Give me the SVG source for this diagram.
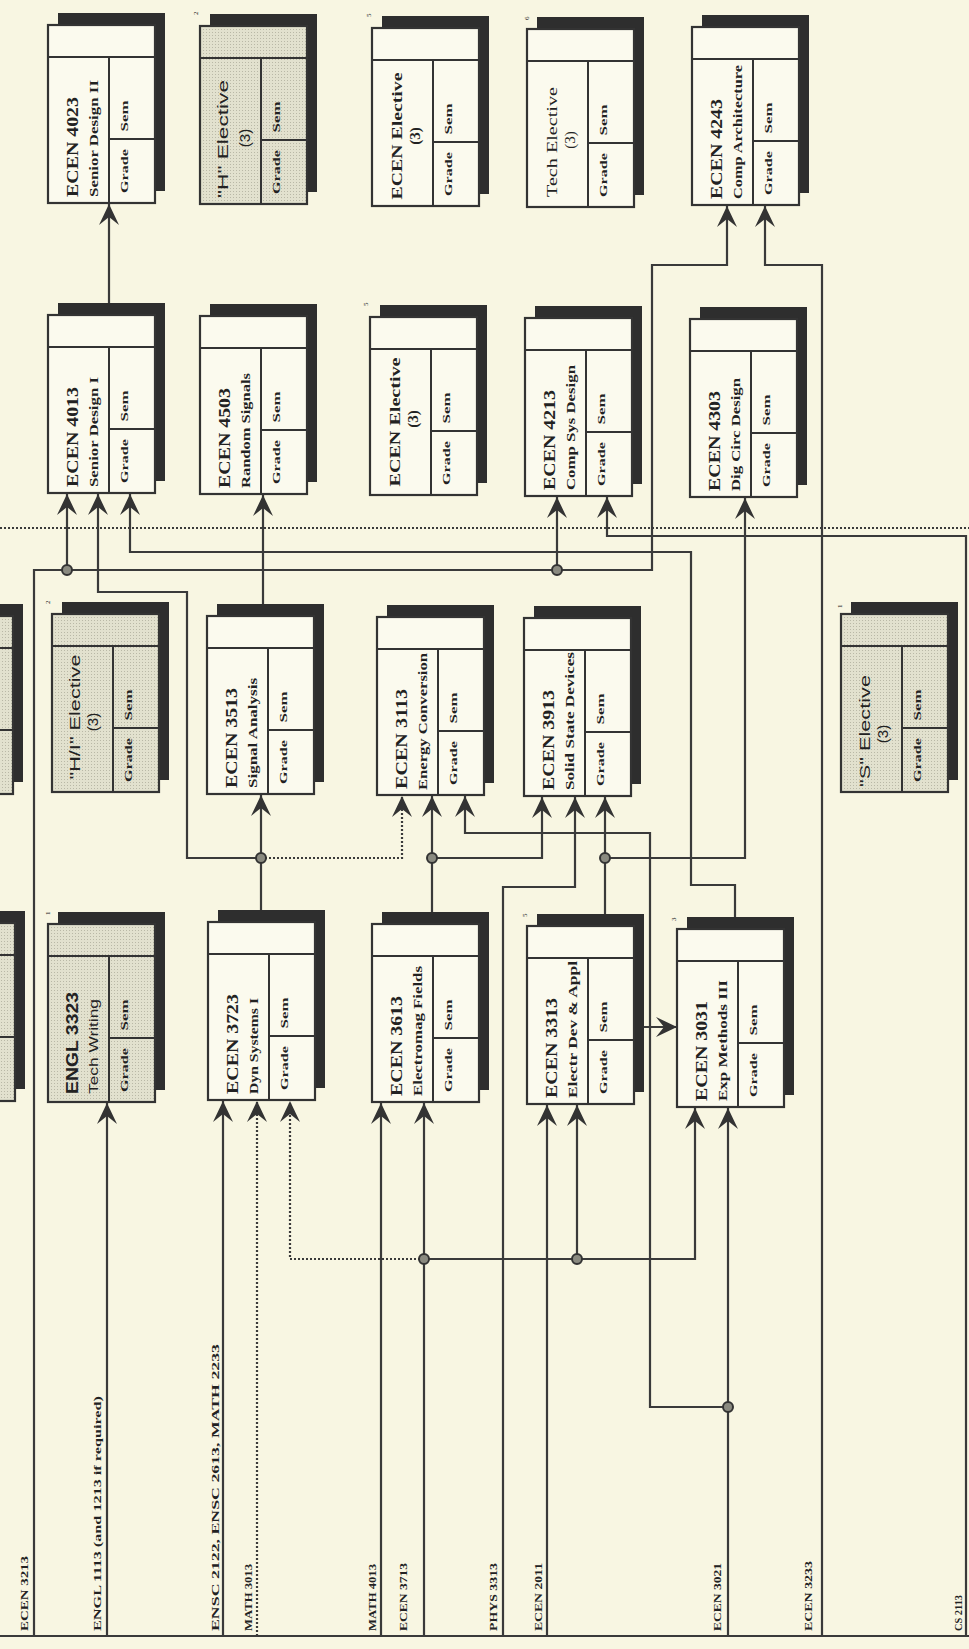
<svg xmlns="http://www.w3.org/2000/svg" xmlns:xlink="http://www.w3.org/1999/xlink" width="969" height="1649" viewBox="0 0 969 1649">
<style>
.bg{fill:#f8f6e2}
.sh{fill:#2e2e2e}
.bx{fill:#fbfaee;stroke:#333;stroke-width:2.2}
.gx{fill:url(#dots);stroke:#333;stroke-width:2.2}
.dv{fill:none;stroke:#333;stroke-width:2}
.ln{fill:none;stroke:#3a3a3a;stroke-width:2.2}
.dt{fill:none;stroke:#3a3a3a;stroke-width:2.2;stroke-dasharray:2 2}
.jn{fill:#8a8a80;stroke:#333;stroke-width:2}
text{fill:#222;font-family:"Liberation Serif",serif;font-weight:bold}
.t{font-size:16px}
.s{font-size:12px}
.c{font-size:11px}
.h{font-family:"Liberation Sans",Arial,sans-serif;font-size:15px;font-weight:normal}
.e{font-size:15px}
.sup{font-size:7px;font-weight:normal}
.lb{font-size:11px}
</style>
<defs>
<pattern id="dots" width="3" height="3" patternUnits="userSpaceOnUse">
<rect width="3" height="3" fill="#e2e1ce"/>
<rect width="1" height="1" fill="#b9b8a6"/>
</pattern>
<marker id="ah" viewBox="-22 -12 24 24" markerWidth="24" markerHeight="24" refX="0" refY="0" orient="auto" markerUnits="userSpaceOnUse">
<path d="M0,0 L-21,-10 L-13,0 L-21,10 Z" fill="#333"/>
</marker>
<g id="frame">
<rect class="sh" x="10" y="-12" width="107" height="178"/>
<rect class="bx" x="0" y="0" width="107" height="178"/>
<path class="dv" d="M0,32H107M61,32V178M61,114H107"/>
<text class="c" transform="translate(80,146) rotate(-90)" text-anchor="middle" textLength="44" lengthAdjust="spacingAndGlyphs">Grade</text>
<text class="c" transform="translate(80,91) rotate(-90)" text-anchor="middle" textLength="31" lengthAdjust="spacingAndGlyphs">Sem</text>
</g>
<g id="gframe">
<rect class="sh" x="10" y="-12" width="107" height="178"/>
<rect class="gx" x="0" y="0" width="107" height="178"/>
<path class="dv" d="M0,32H107M61,32V178M61,114H107"/>
<text class="c" transform="translate(80,146) rotate(-90)" text-anchor="middle" textLength="44" lengthAdjust="spacingAndGlyphs">Grade</text>
<text class="c" transform="translate(80,91) rotate(-90)" text-anchor="middle" textLength="31" lengthAdjust="spacingAndGlyphs">Sem</text>
</g>
</defs>
<rect class="bg" x="0" y="0" width="969" height="1649"/>

<g id="connectors">
<path class="dt" d="M0,528H969"/>
<path class="ln" d="M0,1636H969"/>
<path class="ln" marker-end="url(#ah)" d="M109,303V204"/>
<path class="ln" marker-end="url(#ah)" d="M34,1636V570H652V265H727V206"/>
<path class="ln" marker-end="url(#ah)" d="M67,570V494"/>
<path class="ln" marker-end="url(#ah)" d="M557,570V497"/>
<path class="ln" marker-end="url(#ah)" d="M822,1636V265H765V206"/>
<path class="ln" marker-end="url(#ah)" d="M966,1636V536H607V497"/>
<path class="ln" marker-end="url(#ah)" d="M735,917V885H691V552H130V494"/>
<path class="ln" marker-end="url(#ah)" d="M261,910V795"/>
<path class="ln" marker-end="url(#ah)" d="M261,858H187V592H98V494"/>
<path class="dt" marker-end="url(#ah)" d="M261,858H402V796"/>
<path class="ln" marker-end="url(#ah)" d="M263,604V495"/>
<path class="ln" marker-end="url(#ah)" d="M432,912V796"/>
<path class="ln" marker-end="url(#ah)" d="M432,858H542V797"/>
<path class="ln" marker-end="url(#ah)" d="M605,914V797"/>
<path class="ln" marker-end="url(#ah)" d="M605,858H745V498"/>
<path class="ln" marker-end="url(#ah)" d="M728,1636V1108"/>
<path class="ln" marker-end="url(#ah)" d="M728,1407H650V833H465V796"/>
<path class="ln" marker-end="url(#ah)" d="M503,1636V887H575V797"/>
<path class="ln" marker-end="url(#ah)" d="M547,1636V1105"/>
<path class="ln" marker-end="url(#ah)" d="M424,1636V1103"/>
<path class="ln" marker-end="url(#ah)" d="M424,1259H695V1108"/>
<path class="ln" marker-end="url(#ah)" d="M577,1259V1105"/>
<path class="dt" marker-end="url(#ah)" d="M424,1259H290V1101"/>
<path class="ln" marker-end="url(#ah)" d="M381,1636V1103"/>
<path class="dt" marker-end="url(#ah)" d="M257,1636V1101"/>
<path class="ln" marker-end="url(#ah)" d="M223,1636V1101"/>
<path class="ln" marker-end="url(#ah)" d="M107,1636V1103"/>
<path class="ln" marker-end="url(#ah)" d="M643,1027H677"/>
<circle class="jn" cx="67" cy="570" r="5"/>
<circle class="jn" cx="557" cy="570" r="5"/>
<circle class="jn" cx="261" cy="858" r="5"/>
<circle class="jn" cx="432" cy="858" r="5"/>
<circle class="jn" cx="605" cy="858" r="5"/>
<circle class="jn" cx="424" cy="1259" r="5"/>
<circle class="jn" cx="577" cy="1259" r="5"/>
<circle class="jn" cx="728" cy="1407" r="5"/>
</g>

<g id="n-ecen4023" transform="translate(48,25)"><use href="#frame"/>
<text class="t" transform="translate(30,172) rotate(-90)" textLength="100" lengthAdjust="spacingAndGlyphs">ECEN 4023</text>
<text class="s" transform="translate(50,172) rotate(-90)" textLength="117" lengthAdjust="spacingAndGlyphs">Senior Design II</text></g>
<g id="n-h-elective" transform="translate(200,26)"><use href="#gframe"/>
<text class="sup" transform="translate(-2,-11) rotate(-90)">2</text>
<text class="h" transform="translate(28,113) rotate(-90)" text-anchor="middle" textLength="118" lengthAdjust="spacingAndGlyphs">"H" Elective</text>
<text class="h" transform="translate(50,112) rotate(-90)" text-anchor="middle">(3)</text></g>
<g id="n-ecen-elective-1" transform="translate(372,28)"><use href="#frame"/>
<text class="sup" transform="translate(-1,-11) rotate(-90)">5</text>
<text class="e" transform="translate(30,108) rotate(-90)" text-anchor="middle" textLength="127" lengthAdjust="spacingAndGlyphs">ECEN Elective</text>
<text class="e" transform="translate(48,108) rotate(-90)" text-anchor="middle">(3)</text></g>
<g id="n-tech-elective" transform="translate(527,29)"><use href="#frame"/>
<text class="sup" transform="translate(2,-9) rotate(-90)">6</text>
<text class="e" style="font-weight:normal" transform="translate(30,113) rotate(-90)" text-anchor="middle" textLength="110" lengthAdjust="spacingAndGlyphs">Tech Elective</text>
<text class="e" style="font-weight:normal" transform="translate(48,111) rotate(-90)" text-anchor="middle">(3)</text></g>
<g id="n-ecen4243" transform="translate(692,27)"><use href="#frame"/>
<text class="t" transform="translate(30,172) rotate(-90)" textLength="100" lengthAdjust="spacingAndGlyphs">ECEN 4243</text>
<text class="s" transform="translate(50,172) rotate(-90)" textLength="134" lengthAdjust="spacingAndGlyphs">Comp Architecture</text></g>

<g id="n-ecen4013" transform="translate(48,315)"><use href="#frame"/>
<text class="t" transform="translate(30,172) rotate(-90)" textLength="100" lengthAdjust="spacingAndGlyphs">ECEN 4013</text>
<text class="s" transform="translate(50,172) rotate(-90)" textLength="110" lengthAdjust="spacingAndGlyphs">Senior Design I</text></g>
<g id="n-ecen4503" transform="translate(200,316)"><use href="#frame"/>
<text class="t" transform="translate(30,172) rotate(-90)" textLength="100" lengthAdjust="spacingAndGlyphs">ECEN 4503</text>
<text class="s" transform="translate(50,172) rotate(-90)" textLength="115" lengthAdjust="spacingAndGlyphs">Random Signals</text></g>
<g id="n-ecen-elective-2" transform="translate(370,317)"><use href="#frame"/>
<text class="sup" transform="translate(-2,-11) rotate(-90)">5</text>
<text class="e" transform="translate(30,105) rotate(-90)" text-anchor="middle" textLength="129" lengthAdjust="spacingAndGlyphs">ECEN Elective</text>
<text class="e" transform="translate(48,102) rotate(-90)" text-anchor="middle">(3)</text></g>
<g id="n-ecen4213" transform="translate(525,318)"><use href="#frame"/>
<text class="t" transform="translate(30,172) rotate(-90)" textLength="100" lengthAdjust="spacingAndGlyphs">ECEN 4213</text>
<text class="s" transform="translate(50,172) rotate(-90)" textLength="125" lengthAdjust="spacingAndGlyphs">Comp Sys Design</text></g>
<g id="n-ecen4303" transform="translate(690,319)"><use href="#frame"/>
<text class="t" transform="translate(30,172) rotate(-90)" textLength="100" lengthAdjust="spacingAndGlyphs">ECEN 4303</text>
<text class="s" transform="translate(50,172) rotate(-90)" textLength="113" lengthAdjust="spacingAndGlyphs">Dig Circ Design</text></g>

<g id="n-left-partial-3" transform="translate(-94,616)"><use href="#gframe"/></g>
<g id="n-hi-elective" transform="translate(52,614)"><use href="#gframe"/>
<text class="sup" transform="translate(-2,-10) rotate(-90)">2</text>
<text class="h" transform="translate(28,103) rotate(-90)" text-anchor="middle" textLength="125" lengthAdjust="spacingAndGlyphs">"H/I" Elective</text>
<text class="h" transform="translate(46,108) rotate(-90)" text-anchor="middle">(3)</text></g>
<g id="n-ecen3513" transform="translate(207,616)"><use href="#frame"/>
<text class="t" transform="translate(30,172) rotate(-90)" textLength="100" lengthAdjust="spacingAndGlyphs">ECEN 3513</text>
<text class="s" transform="translate(50,172) rotate(-90)" textLength="110" lengthAdjust="spacingAndGlyphs">Signal Analysis</text></g>
<g id="n-ecen3113" transform="translate(377,617)"><use href="#frame"/>
<text class="t" transform="translate(30,172) rotate(-90)" textLength="100" lengthAdjust="spacingAndGlyphs">ECEN 3113</text>
<text class="s" transform="translate(50,173) rotate(-90)" textLength="137" lengthAdjust="spacingAndGlyphs">Energy Conversion</text></g>
<g id="n-ecen3913" transform="translate(524,618)"><use href="#frame"/>
<text class="t" transform="translate(30,172) rotate(-90)" textLength="100" lengthAdjust="spacingAndGlyphs">ECEN 3913</text>
<text class="s" transform="translate(50,172) rotate(-90)" textLength="138" lengthAdjust="spacingAndGlyphs">Solid State Devices</text></g>
<g id="n-s-elective" transform="translate(841,614)"><use href="#gframe"/>
<text class="sup" transform="translate(1,-6) rotate(-90)">1</text>
<text class="h" transform="translate(29,117) rotate(-90)" text-anchor="middle" textLength="112" lengthAdjust="spacingAndGlyphs">"S" Elective</text>
<text class="h" transform="translate(47,120) rotate(-90)" text-anchor="middle">(3)</text></g>

<g id="n-left-partial-4" transform="translate(-92,923)"><use href="#gframe"/></g>
<g id="n-engl3323" transform="translate(48,924)"><use href="#gframe"/>
<text class="sup" transform="translate(2,-9) rotate(-90)">1</text>
<text class="t" style="font-family:'Liberation Sans',Arial,sans-serif" transform="translate(30,170) rotate(-90)" textLength="102" lengthAdjust="spacingAndGlyphs">ENGL 3323</text>
<text class="s" style="font-family:'Liberation Sans',Arial,sans-serif;font-weight:normal" transform="translate(50,170) rotate(-90)" textLength="95" lengthAdjust="spacingAndGlyphs">Tech Writing</text></g>
<g id="n-ecen3723" transform="translate(208,922)"><use href="#frame"/>
<text class="t" transform="translate(30,172) rotate(-90)" textLength="100" lengthAdjust="spacingAndGlyphs">ECEN 3723</text>
<text class="s" transform="translate(50,172) rotate(-90)" textLength="96" lengthAdjust="spacingAndGlyphs">Dyn Systems I</text></g>
<g id="n-ecen3613" transform="translate(372,924)"><use href="#frame"/>
<text class="t" transform="translate(30,172) rotate(-90)" textLength="100" lengthAdjust="spacingAndGlyphs">ECEN 3613</text>
<text class="s" transform="translate(50,172) rotate(-90)" textLength="130" lengthAdjust="spacingAndGlyphs">Electromag Fields</text></g>
<g id="n-ecen3313" transform="translate(527,926)"><use href="#frame"/>
<text class="sup" transform="translate(0,-9) rotate(-90)">5</text>
<text class="t" transform="translate(30,172) rotate(-90)" textLength="100" lengthAdjust="spacingAndGlyphs">ECEN 3313</text>
<text class="s" transform="translate(50,172) rotate(-90)" textLength="137" lengthAdjust="spacingAndGlyphs">Electr Dev &amp; Appl</text></g>
<g id="n-ecen3031" transform="translate(677,929)"><use href="#frame"/>
<text class="sup" transform="translate(-1,-8) rotate(-90)">3</text>
<text class="t" transform="translate(30,172) rotate(-90)" textLength="100" lengthAdjust="spacingAndGlyphs">ECEN 3031</text>
<text class="s" transform="translate(50,172) rotate(-90)" textLength="121" lengthAdjust="spacingAndGlyphs">Exp Methods III</text></g>

<g id="labels">
<text class="lb" transform="translate(28,1631) rotate(-90)" textLength="75" lengthAdjust="spacingAndGlyphs">ECEN 3213</text>
<text class="lb" transform="translate(101,1631) rotate(-90)" textLength="235" lengthAdjust="spacingAndGlyphs">ENGL 1113 (and 1213 if required)</text>
<text class="lb" transform="translate(219,1631) rotate(-90)" textLength="287" lengthAdjust="spacingAndGlyphs">ENSC 2122, ENSC 2613, MATH 2233</text>
<text class="lb" transform="translate(252,1631) rotate(-90)" textLength="67" lengthAdjust="spacingAndGlyphs">MATH 3013</text>
<text class="lb" transform="translate(376,1631) rotate(-90)" textLength="67" lengthAdjust="spacingAndGlyphs">MATH 4013</text>
<text class="lb" transform="translate(407,1631) rotate(-90)" textLength="68" lengthAdjust="spacingAndGlyphs">ECEN 3713</text>
<text class="lb" transform="translate(497,1631) rotate(-90)" textLength="68" lengthAdjust="spacingAndGlyphs">PHYS 3313</text>
<text class="lb" transform="translate(542,1631) rotate(-90)" textLength="68" lengthAdjust="spacingAndGlyphs">ECEN 2011</text>
<text class="lb" transform="translate(721,1631) rotate(-90)" textLength="68" lengthAdjust="spacingAndGlyphs">ECEN 3021</text>
<text class="lb" transform="translate(812,1631) rotate(-90)" textLength="70" lengthAdjust="spacingAndGlyphs">ECEN 3233</text>
<text class="lb" transform="translate(962,1631) rotate(-90)" textLength="36" lengthAdjust="spacingAndGlyphs">CS 2113</text>
</g>
</svg>
